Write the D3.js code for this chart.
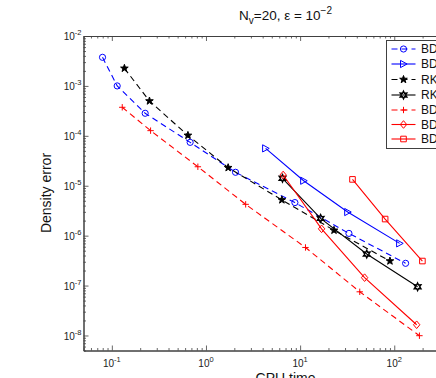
<!DOCTYPE html>
<html><head><meta charset="utf-8">
<script src="https://cdn.jsdelivr.net/npm/d3@7"></script>
<style>body{margin:0;background:#fff}svg{display:block}text{font-family:"Liberation Sans",Arial,Helvetica,sans-serif}</style>
</head><body><svg id="c" width="436" height="378"></svg>
<script>
// ---- data (CPU time, density error) ----
const bdf2DashX=[0.0796,0.114,0.226,0.679,2.06,8.8,33,132];
const bdf2DashY=[3.74e-3,1.0e-3,2.83e-4,7.4e-5,1.86e-5,4.6e-6,1.11e-6,2.79e-7];
const bdf2SolidX=[4.3,10.9,32,114];
const bdf2SolidY=[5.6e-5,1.26e-5,2.97e-6,7.0e-7];
const rkDashX=[0.136,0.251,0.643,1.72,6.4,22.9,90];
const rkDashY=[2.25e-3,4.98e-4,1.02e-4,2.3e-5,5.2e-6,1.28e-6,3.1e-7];
const rkSolidX=[6.5,16.5,51,177];
const rkSolidY=[1.41e-5,2.22e-6,4.28e-7,9.46e-8];
const bdf3DashX=[0.129,0.258,0.82,2.64,11.4,43,185];
const bdf3DashY=[3.73e-4,1.27e-4,2.4e-5,4.24e-6,5.8e-7,7.5e-8,9.9e-9];
const bdf3SolidX=[6.6,16.9,48.4,173];
const bdf3SolidY=[1.64e-5,1.37e-6,1.44e-7,1.64e-8];
const bdf4SolidX=[36,80,199];
const bdf4SolidY=[1.34e-5,2.15e-6,3.1e-7];
const seriesNames=["BDF2","BDF2 (LL)","RK3","RK3 (LL)","BDF3","BDF3 (LL)","BDF4 (LL)"];
const xMajorTicks=[0.1,1,10,100,1000];
const yMajorTicks=[1e-8,1e-7,1e-6,1e-5,1e-4,1e-3,1e-2];
const xTickLabelVals=[0.1,1,10,100];
const xTickExp=["-1","0","1","2"];
const yTickExp=["-8","-7","-6","-5","-4","-3","-2"];

const series=[
 {name:seriesNames[0],xs:bdf2DashX,ys:bdf2DashY,color:"#0000ff",dash:"6,4",marker:"circle"},
 {name:seriesNames[1],xs:bdf2SolidX,ys:bdf2SolidY,color:"#0000ff",dash:null,marker:"triright"},
 {name:seriesNames[2],xs:rkDashX,ys:rkDashY,color:"#000000",dash:"6,4",marker:"pent"},
 {name:seriesNames[3],xs:rkSolidX,ys:rkSolidY,color:"#000000",dash:null,marker:"hex"},
 {name:seriesNames[4],xs:bdf3DashX,ys:bdf3DashY,color:"#ff0000",dash:"6,4",marker:"plus"},
 {name:seriesNames[5],xs:bdf3SolidX,ys:bdf3SolidY,color:"#ff0000",dash:null,marker:"diamond"},
 {name:seriesNames[6],xs:bdf4SolidX,ys:bdf4SolidY,color:"#ff0000",dash:null,marker:"square"}
];

const svg=d3.select("#c");
const L=83.5,R=488.4,T=36,B=350.5;
const x=d3.scaleLog().domain([0.05,1000]).range([L,R]);
const y=d3.scaleLog().domain([5e-9,1e-2]).range([B,T]);

function minors(lo,hi){const out=[];for(let e=-9;e<=3;e++){for(let k=2;k<=9;k++){const v=k*Math.pow(10,e);if(v>=lo&&v<=hi)out.push(v);}}return out;}
const xMin=minors(0.05,1000), yMin=minors(5e-9,1e-2);
const axColor="#404040";

function styleAxis(g){g.select(".domain").attr("stroke",axColor).attr("stroke-width",1);g.selectAll(".tick line").attr("stroke",axColor).attr("stroke-width",0.8);}
[[d3.axisBottom,B,-5,xMajorTicks],[d3.axisBottom,B,-2.5,xMin],[d3.axisTop,T,-5,xMajorTicks],[d3.axisTop,T,-2.5,xMin]].forEach(([f,pos,sz,tv])=>{
  svg.append("g").attr("transform",`translate(0,${pos})`).call(f(x).tickValues(tv).tickSize(sz).tickSizeOuter(0).tickFormat("")).call(styleAxis);
});
[[d3.axisLeft,L,-5,yMajorTicks],[d3.axisLeft,L,-2.5,yMin],[d3.axisRight,R,-5,yMajorTicks],[d3.axisRight,R,-2.5,yMin]].forEach(([f,pos,sz,tv])=>{
  svg.append("g").attr("transform",`translate(${pos},0)`).call(f(y).tickValues(tv).tickSize(sz).tickSizeOuter(0).tickFormat("")).call(styleAxis);
});

// tick labels
xTickLabelVals.forEach((v,i)=>{
  const t=svg.append("text").attr("x",x(v)).attr("y",366.5).attr("text-anchor","middle").attr("font-size",10).attr("fill","#222");
  t.append("tspan").text("10");
  t.append("tspan").attr("dy",-5).attr("font-size",7.5).text(xTickExp[i]);
});
yMajorTicks.forEach((v,i)=>{
  const t=svg.append("text").attr("x",81.5).attr("y",y(v)+4.2).attr("text-anchor","end").attr("font-size",10).attr("fill","#222");
  t.append("tspan").text("10");
  t.append("tspan").attr("dy",-5).attr("font-size",7.5).text(yTickExp[i]);
});

// title
const title=svg.append("text").attr("x",285.5).attr("y",20).attr("text-anchor","middle").attr("font-size",13.5).attr("fill","#111");
title.append("tspan").text("N");
title.append("tspan").attr("dy",4).attr("font-size",10).text("v");
title.append("tspan").attr("dy",-4).text("=20, \u03b5 = 10");
title.append("tspan").attr("dy",-6).attr("font-size",10).text("\u22122");

// axis labels
svg.append("text").attr("transform",`translate(51,193) rotate(-90)`).attr("text-anchor","middle").attr("font-size",14).attr("fill","#111").text("Density error");
svg.append("text").attr("x",285.5).attr("y",383).attr("text-anchor","middle").attr("font-size",14).attr("fill","#111").text("CPU time");

// markers
function markerPath(type){
  switch(type){
    case "circle": return d3.symbol(d3.symbolCircle,30)();
    case "square": return "M-2.8,-2.8H2.8V2.8H-2.8Z";
    case "diamond": return "M0,-3.8L3.2,0L0,3.8L-3.2,0Z";
    case "plus": return "M-3.2,0H3.2M0,-3.2V3.2";
    case "triright": return "M-3,-3.6L3.6,0L-3,3.6Z";
    case "pent": { let p=[];for(let i=0;i<10;i++){const r=i%2?1.6:4.0;const a=-Math.PI/2+i*Math.PI/5;p.push([r*Math.cos(a),r*Math.sin(a)]);}return "M"+p.map(d=>d.join(",")).join("L")+"Z";}
    case "hex": { let p=[];for(let i=0;i<12;i++){const r=i%2?2.0:3.8;const a=-Math.PI/2+i*Math.PI/6;p.push([r*Math.cos(a),r*Math.sin(a)]);}return "M"+p.map(d=>d.join(",")).join("L")+"Z";}
  }
}
function drawMarker(g,type,color,cx,cy){
  const filled=type==="pent";
  g.append("path").attr("d",markerPath(type)).attr("transform",`translate(${cx},${cy})`)
   .attr("fill",filled?color:"none").attr("stroke",color).attr("stroke-width",type==="hex"?1.4:1);
}

const line=d3.line().x(d=>x(d[0])).y(d=>y(d[1]));
series.forEach(s=>{
  const pts=s.xs.map((v,i)=>[v,s.ys[i]]);
  const g=svg.append("g");
  g.append("path").attr("d",line(pts)).attr("fill","none").attr("stroke",s.color).attr("stroke-width",1.1)
   .attr("stroke-dasharray",s.dash);
  pts.forEach(p=>drawMarker(g,s.marker,s.color,x(p[0]),y(p[1])));
});

// legend
const lg=svg.append("g");
lg.append("rect").attr("x",386.5).attr("y",40.5).attr("width",140).attr("height",108).attr("fill","#fff").attr("stroke","#404040").attr("stroke-width",1);
const rowY=[49,64,79.5,95,110,124.5,139];
series.forEach((s,i)=>{
  const yy=rowY[i];
  lg.append("path").attr("d",`M391.5,${yy}H415.5`).attr("stroke",s.color).attr("stroke-width",1.1).attr("stroke-dasharray",s.dash);
  drawMarker(lg,s.marker,s.color,403.5,yy);
  lg.append("text").attr("x",421).attr("y",yy+4.3).attr("font-size",12).attr("fill","#111").text(s.name);
});
</script></body></html>
